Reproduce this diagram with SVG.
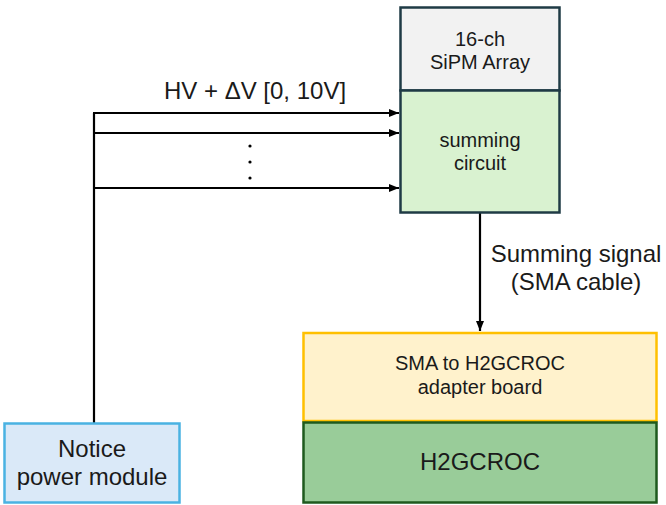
<svg xmlns="http://www.w3.org/2000/svg" width="666" height="505" viewBox="0 0 666 505">
<defs>
<style>
text{font-family:"Liberation Sans",Arial,sans-serif;fill:#1a1a1a;text-anchor:middle}
.s20{font-size:20px}
.s24{font-size:24px}
.wire{stroke:#000;stroke-width:2.2;fill:none}
</style>
<marker id="ah" markerWidth="10" markerHeight="8" refX="10" refY="4" orient="auto" markerUnits="userSpaceOnUse">
<path d="M0,0 L10,4 L0,8 Z" fill="#000"/>
</marker>
</defs>
<rect width="666" height="505" fill="#fff"/>
<g id="connectors">
<path class="wire" d="M94,423 V113"/>
<path class="wire" d="M93,113 H399" marker-end="url(#ah)"/>
<path class="wire" d="M94,133 H399" marker-end="url(#ah)"/>
<path class="wire" d="M94,188 H399" marker-end="url(#ah)"/>
<path class="wire" d="M480,213 V331" marker-end="url(#ah)"/>
<circle cx="250" cy="146" r="1.6" fill="#000"/>
<circle cx="250" cy="162" r="1.6" fill="#000"/>
<circle cx="250" cy="178" r="1.6" fill="#000"/>
<text class="s24" x="255" y="99">HV + ΔV [0, 10V]</text>
<text class="s24" x="576" y="262">Summing signal</text>
<text class="s24" x="576" y="290">(SMA cable)</text>
</g>
<g id="sipm">
<rect x="400.5" y="7.5" width="159" height="83" fill="#f2f2f2" stroke="#1f3b45" stroke-width="2.5"/>
<text class="s20" x="480" y="46">16-ch</text>
<text class="s20" x="480" y="69">SiPM Array</text>
</g>
<g id="summing">
<rect x="400.5" y="90.5" width="159" height="122" fill="#d9f2d0" stroke="#1f3b45" stroke-width="2.5"/>
<text class="s20" x="480" y="147">summing</text>
<text class="s20" x="480" y="170">circuit</text>
</g>
<g id="adapter">
<rect x="303.5" y="333" width="353" height="88" fill="#fff2cc" stroke="#ffc000" stroke-width="2.5"/>
<text class="s20" x="480" y="370">SMA to H2GCROC</text>
<text class="s20" x="480" y="394">adapter board</text>
</g>
<g id="h2gcroc">
<rect x="303.5" y="422.5" width="353" height="80" fill="#99cc99" stroke="#1e5a1e" stroke-width="2.5"/>
<text class="s24" x="480" y="470">H2GCROC</text>
</g>
<g id="notice">
<rect x="4.5" y="423.5" width="175" height="79" fill="#dae9f8" stroke="#4ab2e2" stroke-width="2.5"/>
<text class="s24" x="92" y="457">Notice</text>
<text class="s24" x="92" y="485">power module</text>
</g>
</svg>
